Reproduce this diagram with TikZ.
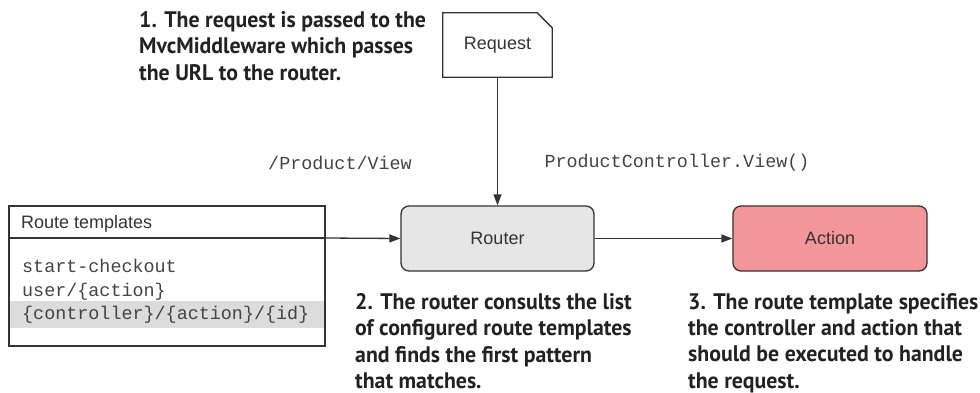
\documentclass[tikz,border=0pt]{standalone}
\usepackage{fontspec}
\setmainfont{Liberation Sans}
\setmonofont{Liberation Mono}
\newfontfamily\annfont[FakeStretch=0.97]{PT Sans}
\usetikzlibrary{arrows.meta}
\definecolor{edge}{HTML}{333333}
\definecolor{routerfill}{HTML}{E6E6E6}
\definecolor{actionfill}{HTML}{F4979A}
\definecolor{band}{HTML}{DCDCDC}
\definecolor{codetext}{HTML}{444444}
\definecolor{anntext}{HTML}{222222}
\tikzset{
  arr/.style={draw=edge, line width=1.3pt, -{Triangle[length=11pt,width=8pt]}},
  procbox/.style={draw=edge, line width=1.3pt, rounded corners=8pt, minimum width=193pt, minimum height=65pt, font=\fontsize{18}{20}\selectfont, text=edge, inner sep=0pt},
  codeline/.style={anchor=base west, inner sep=0pt, font=\ttfamily\fontsize{18.4}{20}\selectfont, text=codetext},
  codelabel/.style={inner sep=0pt, font=\ttfamily\fontsize{18.4}{20}\selectfont, text=codetext},
  annot/.style={anchor=north west, inner sep=0pt, align=left, text=anntext, font=\annfont\bfseries\fontsize{22.5}{26.5}\selectfont},
}
\begin{document}
\begin{tikzpicture}[x=1pt,y=-1pt]
\useasboundingbox (0,0) rectangle (980,393);
% Request document
\node[minimum width=109pt, minimum height=64pt, inner sep=0pt, text=edge, font=\fontsize{18}{20}\selectfont] (req) at (497.5,45) {Request};
\draw[draw=edge, line width=1.3pt] (req.north west) -- ([xshift=-15pt]req.north east) -- ([yshift=-15pt]req.north east) -- (req.south east) -- (req.south west) -- cycle;
% Router and Action
\node[procbox, fill=routerfill] (router) at (497.5,238.5) {Router};
\node[procbox, fill=actionfill, minimum width=194pt] (action) at (830,238.5) {Action};
% Route templates box
\fill[band] (9,301) rectangle (325,328);
\node[draw=edge, line width=1.3pt, minimum width=316pt, minimum height=140pt, inner sep=0pt] (rt) at (167,276) {};
\coordinate (rthl) at (9,238);
\coordinate (rtout) at (325,238);
\draw[draw=edge, line width=1.3pt] (rthl) -- (rtout);
\node[anchor=base west, inner sep=0pt, text=edge, font=\fontsize{18}{20}\selectfont] (rttitle) at (21,228.5) {Route templates};
\node[codeline] (c1) at (22,272.5) {start-checkout};
\node[codeline] (c2) at (22,296.5) {user/\{action\}};
\node[codeline] (c3) at (22,319.5) {\{controller\}/\{action\}/\{id\}};
% connectors
\draw[arr] (req) -- (router);
\draw[arr] (rtout) -- (router.west);
\draw[arr] (router) -- (action);
% labels
\node[codelabel] (l1) at (340,163) {/Product/View};
\node[codelabel] (l2) at (677,163) {ProductController.View()};
% annotations
\node[annot] (a1) at (139,10.8) {1. The request is passed to the\\MvcMiddleware which passes\\the URL to the router.};
\node[annot] (a2) at (355,292.8) {2. The router consults the list\\of configured route templates\\and finds the first pattern\\that matches.};
\node[annot] (a3) at (688,292.8) {3. The route template specifies\\the controller and action that\\should be executed to handle\\the request.};
\end{tikzpicture}
\end{document}
